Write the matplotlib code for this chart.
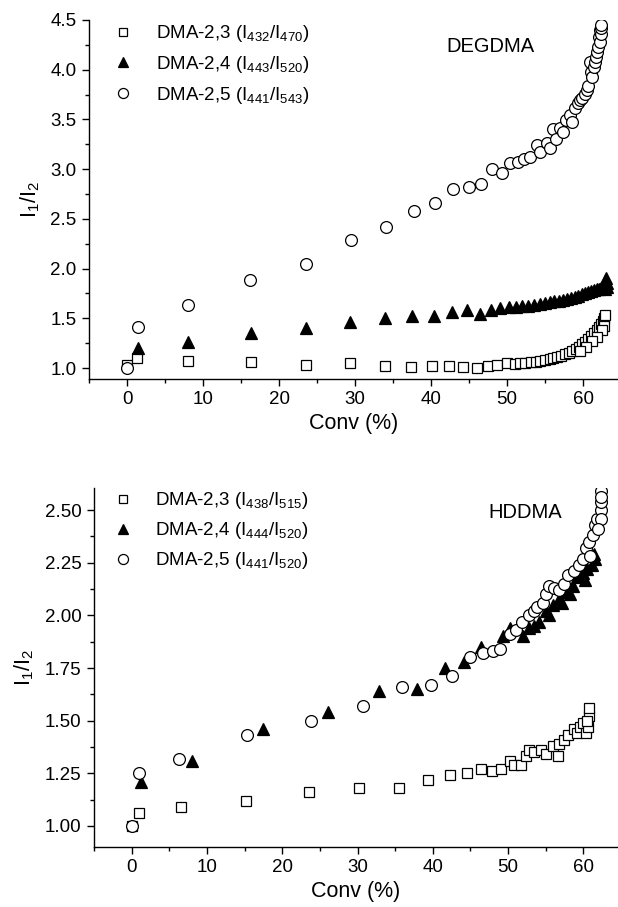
import matplotlib
matplotlib.use("Agg")
import matplotlib.pyplot as plt
from matplotlib.ticker import MultipleLocator

plt.rcParams['font.family'] = ['Liberation Sans', 'DejaVu Sans']
plt.rcParams['mathtext.default'] = 'regular'

# ---------------- Data: DEGDMA (top) ----------------
deg_x23 = [0, 1.3, 8.0, 16.3, 23.6, 29.4, 34.0, 37.3, 40.1, 42.4, 44.2, 46.0, 47.5, 48.7, 50.0,
           51.0, 51.7, 52.4, 53.1, 53.8, 54.4, 55.0, 55.6, 56.1, 56.6, 57.1, 57.6, 58.1, 58.6,
           59.1, 59.5, 59.9, 60.3, 60.7, 61.1, 61.5, 61.8, 62.1, 62.4, 62.6, 62.8, 62.9, 62.8,
           62.5, 61.9, 61.2, 60.4, 59.6]
deg_y23 = [1.03, 1.10, 1.07, 1.06, 1.03, 1.05, 1.02, 1.01, 1.02, 1.02, 1.01, 1.00, 1.02, 1.03, 1.05,
           1.04, 1.05, 1.05, 1.06, 1.06, 1.07, 1.08, 1.09, 1.10, 1.11, 1.12, 1.14, 1.15, 1.17,
           1.19, 1.21, 1.24, 1.26, 1.29, 1.32, 1.35, 1.38, 1.41, 1.44, 1.47, 1.50, 1.53, 1.42,
           1.38, 1.31, 1.27, 1.21, 1.17]

deg_x24 = [1.4, 8.0, 16.3, 23.6, 29.3, 34.0, 37.5, 40.4, 42.7, 44.7, 46.4, 47.9, 49.1, 50.2, 51.2,
           52.0, 52.8, 53.6, 54.3, 55.0, 55.6, 56.2, 56.8, 57.4, 57.9, 58.4, 58.9, 59.4, 59.8,
           60.2, 60.6, 61.0, 61.4, 61.8, 62.1, 62.4, 62.6, 62.8, 62.9, 63.0, 63.1, 63.1, 62.9]
deg_y24 = [1.20, 1.26, 1.35, 1.40, 1.46, 1.50, 1.52, 1.52, 1.56, 1.58, 1.54, 1.58, 1.60, 1.61, 1.61,
           1.62, 1.62, 1.63, 1.64, 1.65, 1.66, 1.67, 1.67, 1.68, 1.69, 1.70, 1.71, 1.72, 1.74,
           1.75, 1.76, 1.77, 1.78, 1.79, 1.80, 1.81, 1.83, 1.85, 1.88, 1.91, 1.82, 1.86, 1.79]

deg_x25 = [0, 1.45, 8.0, 16.2, 23.5, 29.5, 34.1, 37.8, 40.5, 42.9, 45.0, 46.6, 48.0, 49.3, 50.4,
           51.5, 52.2, 53.0, 53.9, 54.4, 55.2, 55.6, 56.0, 56.5, 57.0, 57.4, 57.8, 58.3, 58.6,
           59.0, 59.4, 59.6, 59.8, 60.3, 60.5, 60.7, 60.9, 61.0, 61.2, 61.5, 61.6, 61.7, 61.8,
           62.0, 62.1, 62.2, 62.2, 62.3, 62.3, 62.3]
deg_y25 = [1.00, 1.41, 1.63, 1.89, 2.05, 2.29, 2.42, 2.58, 2.66, 2.80, 2.82, 2.85, 3.00, 2.96, 3.06,
           3.07, 3.10, 3.12, 3.24, 3.17, 3.26, 3.21, 3.40, 3.30, 3.41, 3.37, 3.49, 3.54, 3.47,
           3.62, 3.67, 3.70, 3.72, 3.76, 3.80, 3.84, 4.08, 3.98, 3.93, 4.03, 4.08, 4.13, 4.18,
           4.23, 4.33, 4.28, 4.40, 4.36, 4.42, 4.45]

# ---------------- Data: HDDMA (bottom) ----------------
hd_x23 = [0, 1.0, 6.6, 15.2, 23.5, 30.2, 35.5, 39.4, 42.3, 44.6, 46.4, 47.9, 49.1, 50.2, 50.8,
          51.7, 52.4, 52.8, 53.5, 54.4, 55.0, 55.9, 56.6, 56.8, 57.4, 58.0, 58.7, 59.2, 59.6,
          60.0, 60.3, 60.7, 60.8, 60.6, 60.5]
hd_y23 = [1.00, 1.06, 1.09, 1.12, 1.16, 1.18, 1.18, 1.22, 1.24, 1.25, 1.27, 1.26, 1.27, 1.31, 1.29,
          1.29, 1.33, 1.36, 1.35, 1.36, 1.34, 1.38, 1.33, 1.39, 1.41, 1.43, 1.46, 1.44, 1.47,
          1.49, 1.44, 1.52, 1.56, 1.47, 1.50]

hd_x24 = [1.3, 8.0, 17.5, 26.1, 32.8, 37.9, 41.6, 44.2, 46.4, 49.3, 50.2, 52.0, 52.8, 53.5, 54.1,
          55.0, 55.5, 55.9, 56.7, 57.2, 57.7, 58.2, 58.6, 59.2, 59.9, 60.2, 60.5, 61.2, 61.5, 61.4]
hd_y24 = [1.21, 1.31, 1.46, 1.54, 1.64, 1.65, 1.75, 1.78, 1.85, 1.90, 1.94, 1.90, 1.94, 1.95, 1.97,
          2.02, 2.00, 2.05, 2.08, 2.06, 2.11, 2.10, 2.14, 2.18, 2.20, 2.17, 2.22, 2.24, 2.27, 2.29]

hd_x25 = [0, 1.0, 6.3, 15.3, 23.8, 30.7, 35.9, 39.7, 42.6, 44.9, 46.7, 48.0, 48.9, 50.2, 51.0,
          51.9, 52.8, 53.4, 53.9, 54.6, 55.0, 55.5, 56.1, 56.7, 57.4, 58.0, 58.7, 59.4, 59.9,
          60.3, 60.9, 60.7, 61.3, 61.6, 61.8, 62.3, 62.3, 62.4, 62.3, 62.4, 62.0]
hd_y25 = [1.00, 1.25, 1.32, 1.43, 1.50, 1.57, 1.66, 1.67, 1.71, 1.80, 1.82, 1.83, 1.84, 1.91, 1.93,
          1.97, 2.00, 2.02, 2.04, 2.06, 2.10, 2.14, 2.13, 2.12, 2.15, 2.19, 2.21, 2.24, 2.27,
          2.32, 2.28, 2.35, 2.38, 2.43, 2.46, 2.50, 2.54, 2.59, 2.46, 2.56, 2.41]

deg_labels = ['DMA-2,3 (I$_{432}$/I$_{470}$)', 'DMA-2,4 (I$_{443}$/I$_{520}$)', 'DMA-2,5 (I$_{441}$/I$_{543}$)']
hd_labels = ['DMA-2,3 (I$_{438}$/I$_{515}$)', 'DMA-2,4 (I$_{444}$/I$_{520}$)', 'DMA-2,5 (I$_{441}$/I$_{520}$)']

fig = plt.figure(figsize=(6.18, 9.07), dpi=100)
W, H = 618, 907
ax1 = fig.add_axes([89 / W, 1 - 379 / H, (618 - 89) / W, (379 - 20) / H])
ax2 = fig.add_axes([94 / W, 1 - 847 / H, (618 - 94) / W, (847 - 488) / H])

def draw(ax, xs, ys, labels, title, tpos, ylim, ymaj, ymin, yfmt, legpos, lspace):
    (x23, x24, x25), (y23, y24, y25) = xs, ys
    ax.plot(x23, y23, ls='none', marker='s', ms=6.8, mfc='white', mec='black', mew=0.9, label=labels[0])
    ax.plot(x24, y24, ls='none', marker='^', ms=8, mfc='black', mec='black', mew=0.9, label=labels[1])
    ax.plot(x25, y25, ls='none', marker='o', ms=8.5, mfc='white', mec='black', mew=0.9, label=labels[2])
    ax.set_xlim(-5, 64.6)
    ax.set_ylim(*ylim)
    ax.xaxis.set_major_locator(MultipleLocator(10))
    ax.xaxis.set_minor_locator(MultipleLocator(5))
    ax.yaxis.set_major_locator(MultipleLocator(ymaj))
    ax.yaxis.set_minor_locator(MultipleLocator(ymin))
    ax.yaxis.set_major_formatter(plt.FormatStrFormatter(yfmt))
    for s in ('top', 'right'):
        ax.spines[s].set_visible(False)
    for s in ('left', 'bottom'):
        ax.spines[s].set_linewidth(1.0)
    ax.tick_params(which='major', direction='out', length=5, width=1.0, labelsize=13.5, pad=4)
    ax.tick_params(which='minor', direction='out', length=3, width=1.0)
    ax.set_xlabel('Conv (%)', fontsize=15.5, labelpad=3)
    ax.set_ylabel('I$_1$/I$_2$', fontsize=15.5, labelpad=6)
    ax.text(tpos[0], tpos[1], title, transform=ax.transAxes, fontsize=14.5, ha='center', va='center')
    ax.legend(loc='upper left', bbox_to_anchor=legpos, frameon=False, fontsize=13.5,
              handletextpad=1.1, labelspacing=lspace, borderaxespad=0, markerscale=0.85,
              handlelength=1.3)

draw(ax1, (deg_x23, deg_x24, deg_x25), (deg_y23, deg_y24, deg_y25), deg_labels, 'DEGDMA',
     (0.758, 0.925), (0.89, 4.5), 0.5, 0.25, '%.1f', (0.027, 1.012), 0.52)
draw(ax2, (hd_x23, hd_x24, hd_x25), (hd_y23, hd_y24, hd_y25), hd_labels, 'HDDMA',
     (0.823, 0.933), (0.9, 2.605), 0.25, 0.125, '%.2f', (0.017, 1.014), 0.48)

fig.savefig('out.png', dpi=100)
